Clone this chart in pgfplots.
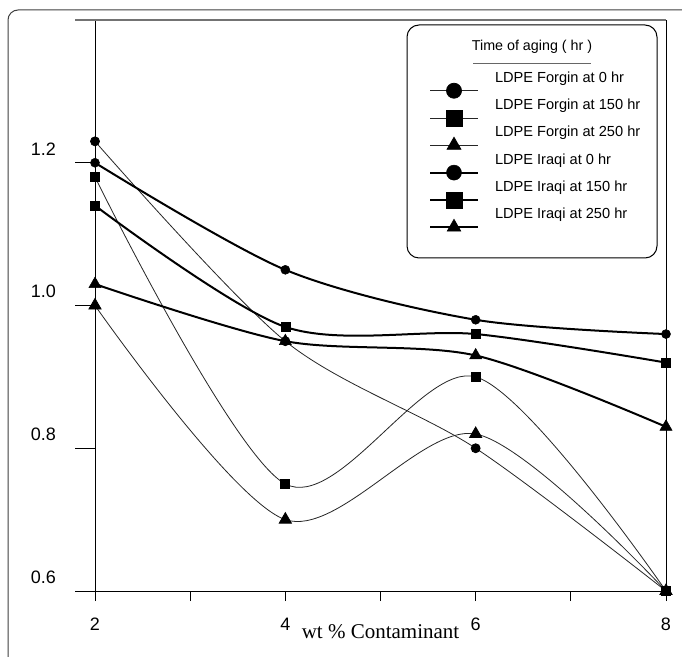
\documentclass[border=0pt]{standalone}
\usepackage{fontspec}
\setmainfont{Liberation Sans}
\newfontfamily\timesfont{Liberation Serif}
\usepackage{pgfplots}
\pgfplotsset{compat=1.18}
\pgfplotsset{
  myimg/.style={legend image code/.code={
    \path[draw=none, fill=none] (0bp,0bp) -- (48bp,0bp);
    \draw[##1, overlay, yshift=-12.5bp, mark size=#1, mark repeat=2, mark phase=2] plot coordinates {(0bp,0bp) (24bp,0bp) (48bp,0bp)};
  }},
  thinl/.style={black!85, line width=0.8bp, smooth, mark options={fill=black, draw=black, solid}},
  thickl/.style={black, line width=2bp, smooth, mark options={fill=black, draw=black, solid, line width=0.5bp}},
}
\begin{document}
\begin{tikzpicture}
\useasboundingbox (0bp,0bp) rectangle (682bp,657bp);
\fill[white] (0bp,0bp) rectangle (682bp,657bp);
\draw[black!75, line width=1bp, rounded corners=10bp] (8bp,-5bp) -- (8bp,647bp) -- (690bp,647bp);
\begin{axis}[
  at={(95bp,66bp)}, anchor=south west,
  scale only axis, width=571bp, height=571bp,
  xmin=2, xmax=8, ymin=0.6, ymax=1.4,
  clip=false,
  axis line style={draw=none},
  xtick={2,4,6,8}, xticklabels={2,4,6,8},
  minor xtick={3,5,7},
  ytick=\empty, minor ytick={0.7,0.9,1.1,1.3},
  extra y ticks={0.6,0.8,1.0,1.2},
  extra y tick labels={0.6,0.8,1.0,1.2},
  extra y tick style={major tick length=20bp},
  tick align=outside, xtick pos=lower, ytick pos=left,
  major tick length=10bp, minor tick length=10bp,
  every tick/.style={black, line width=0.8bp},
  /pgf/number format/assume math mode=true,
  ticklabel style={font=\fontsize{18bp}{21bp}\selectfont},
  yticklabel style={anchor=east, inner sep=0pt, xshift=-19bp, yshift=14bp},
  xticklabel style={anchor=north, inner sep=0pt, yshift=-17bp},
  xlabel={wt \% Contaminant},
  xlabel style={font=\timesfont\fontsize{21bp}{24bp}\selectfont, at={(axis description cs:0.5,0)}, anchor=center, yshift=-41bp},
  legend style={at={(0.5867,0.9103)}, anchor=north west, draw=none, fill=none,
    inner sep=0pt, outer sep=0pt, row sep=13.3bp, column sep=17bp,
    font=\fontsize{14.6bp}{16bp}\selectfont,
    nodes={inner sep=0pt, text height=11bp, text depth=3bp}},
  legend cell align=left,
]
\addplot[thinl, mark=*, mark size=4.5bp, myimg=7.5bp] coordinates {(2,1.23) (4,0.95) (6,0.80) (8,0.60)};
\addlegendentry{LDPE Forgin at 0 hr}
\addplot[thinl, mark=square*, mark size=4.5bp, myimg=8bp] coordinates {(2,1.18) (4,0.75) (6,0.90) (8,0.60)};
\addlegendentry{LDPE Forgin at 150 hr}
\addplot[thinl, mark=triangle*, mark size=7bp, myimg=8bp] coordinates {(2,1.00) (4,0.70) (6,0.82) (8,0.60)};
\addlegendentry{LDPE Forgin at 250 hr}
\addplot[thickl, mark=*, mark size=4.5bp, myimg=7.5bp] coordinates {(2,1.20) (4,1.05) (6,0.98) (8,0.96)};
\addlegendentry{LDPE Iraqi at 0 hr}
\addplot[thickl, mark=square*, mark size=4.5bp, myimg=8bp] coordinates {(2,1.14) (4,0.97) (6,0.96) (8,0.92)};
\addlegendentry{LDPE Iraqi at 150 hr}
\addplot[thickl, mark=triangle*, mark size=7bp, myimg=8bp] coordinates {(2,1.03) (4,0.95) (6,0.93) (8,0.83)};
\addlegendentry{LDPE Iraqi at 250 hr}
\draw[black, line width=0.9bp] (rel axis cs:0,0) -- (rel axis cs:0,1);
\draw[black, line width=0.9bp] (rel axis cs:-0.035,0) -- (rel axis cs:1,0);
\draw[black, line width=0.9bp] (rel axis cs:1,0) -- (rel axis cs:1,1);
\draw[black!55, line width=1.8bp] (rel axis cs:-0.035,1) -- (rel axis cs:1,1);
\end{axis}
\draw[black, line width=1bp, rounded corners=12bp] (407bp,399bp) rectangle (657bp,632bp);
\node[font=\fontsize{14.3bp}{16bp}\selectfont] at (532bp,610bp) {Time of aging ( hr )};
\draw[black!60, line width=0.8bp] (473bp,594bp) -- (591bp,594bp);
\end{tikzpicture}
\end{document}
